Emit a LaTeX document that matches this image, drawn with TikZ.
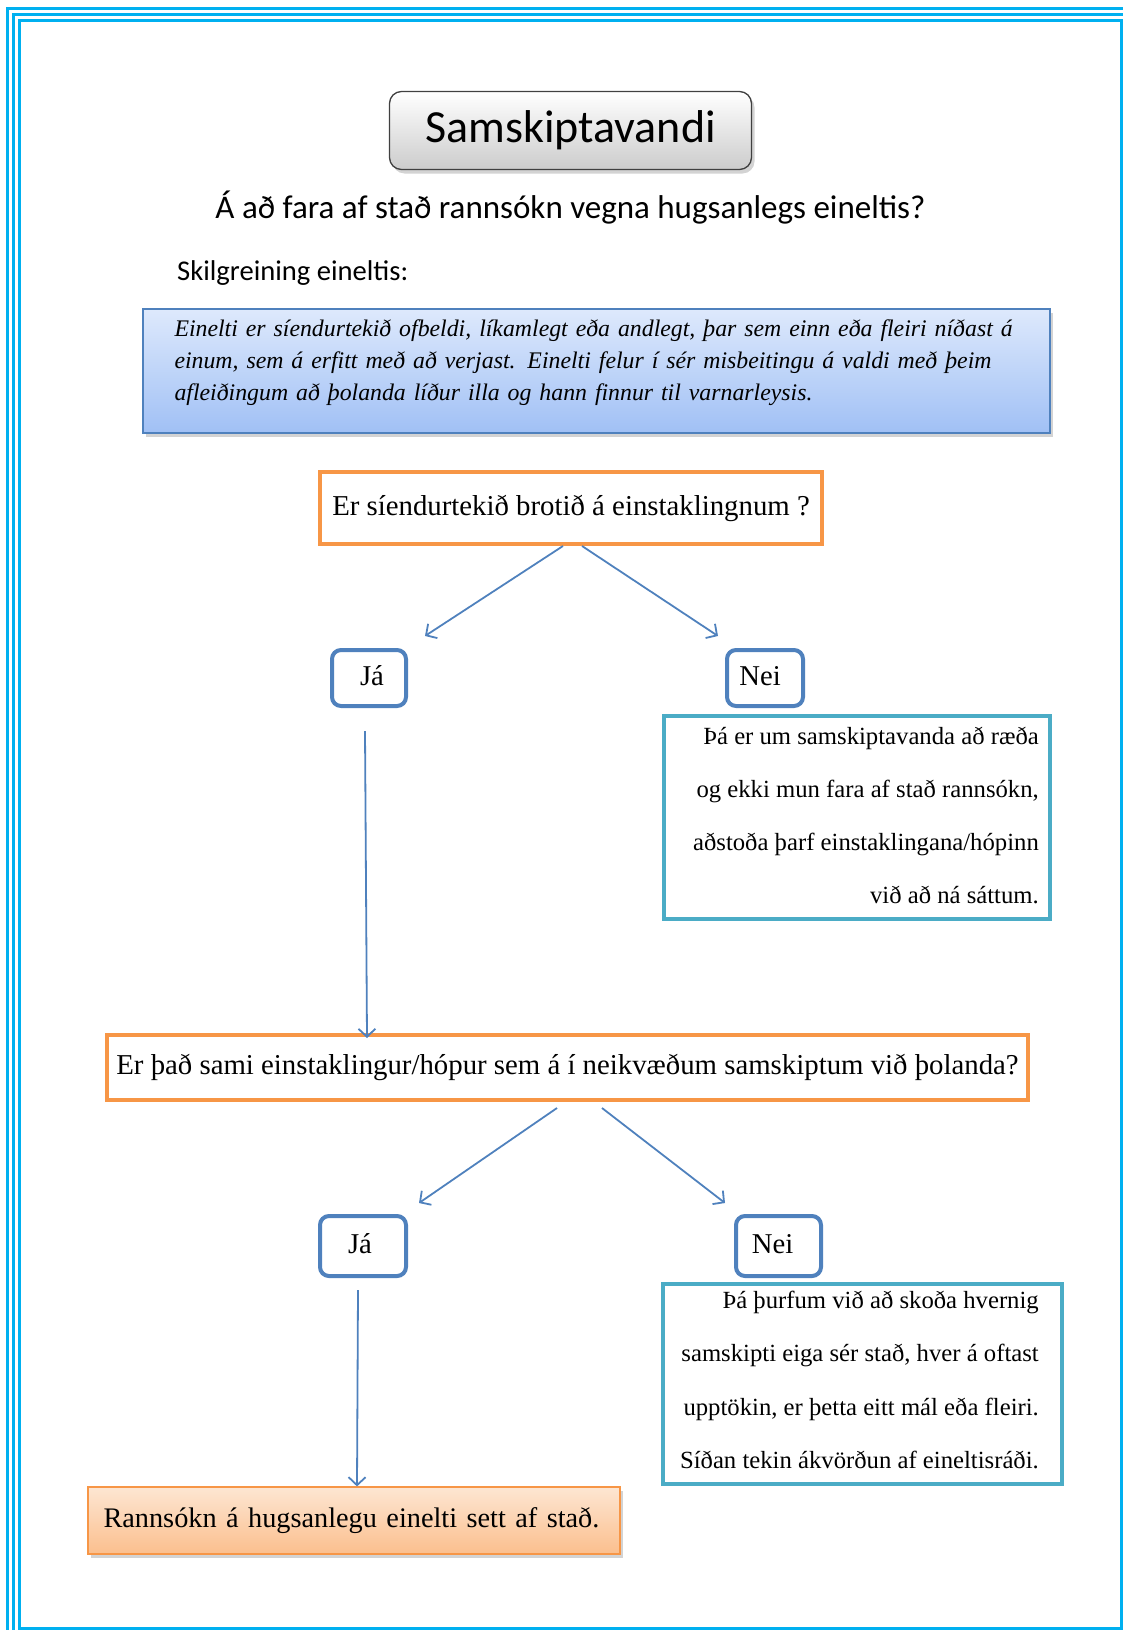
\documentclass[tikz,border=0pt]{standalone}
\usepackage{fontspec}
\setmainfont{Liberation Serif}
\newfontfamily\calibri{Carlito}
\usetikzlibrary{arrows.meta,positioning,shadows}

\tikzset{>={Straight Barb[length=8pt,width=17pt]}}
\definecolor{framecol}{RGB}{0,176,240}
\definecolor{orng}{RGB}{247,150,70}
\definecolor{jnblue}{RGB}{79,129,189}
\definecolor{anscol}{RGB}{75,172,198}
\tikzstyle{shade}=[drop shadow={shadow xshift=3pt,shadow yshift=-4pt,opacity=0.35}]
\tikzstyle{qbox}=[draw=orng,line width=4pt,inner sep=0pt,font=\fontsize{28.8}{34}\selectfont,text height=20pt,text depth=6pt]
\tikzstyle{jnbox}=[draw=jnblue,line width=4pt,rounded corners=9pt,inner sep=0pt,font=\fontsize{28.7}{34}\selectfont,text height=20pt,text depth=6pt]
\tikzstyle{ansbox}=[draw=anscol,line width=4pt,inner sep=0pt]
\tikzstyle{anstext}=[align=right,inner sep=0pt,font=\fontsize{24.7}{53.3}\selectfont]
\tikzstyle{arr}=[->,jnblue,line width=1.8pt]

\begin{document}
\begin{tikzpicture}[x=1pt,y=-1pt]
  \useasboundingbox (0,0) rectangle (1123,1630);

  % FRAME
  \foreach \d in {7.5,13.5,19.5}
    \draw[framecol,line width=3pt] (\d,\d+0.5) rectangle (1140.5-\d,1648-\d);

  % HEAD
  \node[draw=black!75,line width=1.3pt,rounded corners=12pt,top color=white,bottom color=black!20,shade,
    minimum width=362pt,minimum height=78pt,font=\calibri\fontsize{46}{55}\selectfont] (title) at (570.5,130.5) {Samskiptavandi};
  \node[font=\calibri\fontsize{33}{40}\selectfont] (quest) at (570.5,208) {Á að fara af stað rannsókn vegna hugsanlegs eineltis?};
  \node[anchor=west,inner sep=0pt,font=\calibri\fontsize{28.6}{34}\selectfont] (skil) at (177,273) {Skilgreining eineltis:};
  \node[draw=jnblue,line width=1.2pt,top color={rgb,255:red,222;green,233;blue,252},bottom color={rgb,255:red,160;green,192;blue,245},shade,
    text width=850pt,inner xsep=28.5pt,inner ysep=0pt,align=left,text height=27pt,text depth=97pt,
    font=\itshape\fontsize{23.8}{32}\selectfont] (def) at (596.5,371)
    {\hspace*{3pt}Einelti er síendurtekið ofbeldi, líkamlegt eða andlegt, þar sem einn eða fleiri níðast á\\
     \hspace*{3pt}einum, sem á erfitt með að verjast. Einelti felur í sér misbeitingu á valdi með þeim\\
     \hspace*{3pt}afleiðingum að þolanda líður illa og hann finnur til varnarleysis.};

  % FIRST QUESTION
  \node[qbox,minimum width=502pt,minimum height=72pt] (qA) at (571,508) {Er síendurtekið brotið á einstaklingnum ?};
  \node[jnbox,minimum width=74pt,minimum height=56pt] (jaA) at (369,678) {\hspace*{6pt}Já};
  \node[jnbox,minimum width=76pt,minimum height=56pt] (neiA) at (765,678) {Nei\hspace*{10pt}};
  \node[ansbox,minimum width=386pt,minimum height=203pt] (ansA) at (857,817.5) {};
  \node[anstext,left=13pt of ansA.east,yshift=2pt] (ansAtxt) {Þá er um samskiptavanda að ræða\\og ekki mun fara af stað rannsókn,\\aðstoða þarf einstaklingana/hópinn\\við að ná sáttum.};

  % SECOND QUESTION
  \node[qbox,minimum width=921pt,minimum height=65pt] (qB) at (567.5,1067.5) {Er það sami einstaklingur/hópur sem á í neikvæðum samskiptum við þolanda?};
  \node[jnbox,minimum width=86pt,minimum height=60pt] (jaB) at (363,1246) {Já\hspace*{6pt}};
  \node[jnbox,minimum width=85pt,minimum height=60pt] (neiB) at (778.5,1246) {Nei\hspace*{12pt}};
  \node[ansbox,minimum width=399pt,minimum height=200pt] (ansB) at (862.5,1384) {};
  \node[anstext,left=25pt of ansB.east,yshift=4pt] (ansBtxt) {Þá þurfum við að skoða hvernig\\samskipti eiga sér stað, hver á oftast\\upptökin, er þetta eitt mál eða fleiri.\\Síðan tekin ákvörðun af eineltisráði.};

  % RESULT
  \node[draw=orng,line width=1.2pt,top color={rgb,255:red,253;green,230;blue,210},bottom color={rgb,255:red,251;green,191;blue,142},shade,
    text width=517pt,inner xsep=7.5pt,minimum height=67pt,align=left,text height=20pt,text depth=6pt,
    font=\fontsize{28.3}{33}\selectfont] (res) at (354,1520.5) {\hspace*{8pt}Rannsókn á hugsanlegu einelti sett af stað.};

  % ARROWS
  \draw[arr] ([xshift=-8pt]qA.south) -- ([xshift=56pt,yshift=12pt]jaA.north);
  \draw[arr] ([xshift=11pt]qA.south) -- ([xshift=-47pt,yshift=12pt]neiA.north);
  \draw[arr] ([xshift=-4pt,yshift=-23pt]jaA.south) -- ([xshift=-200.5pt,yshift=-5pt]qB.north);
  \draw[arr] ([xshift=-10.5pt,yshift=-6pt]qB.south) -- ([xshift=56pt,yshift=11pt]jaB.north);
  \draw[arr] ([xshift=34.5pt,yshift=-6pt]qB.south) -- ([xshift=-53.5pt,yshift=11pt]neiB.north);
  \draw[arr] ([xshift=-5pt,yshift=-12pt]jaB.south) -- ([xshift=3pt]res.north);

\end{tikzpicture}
\end{document}
